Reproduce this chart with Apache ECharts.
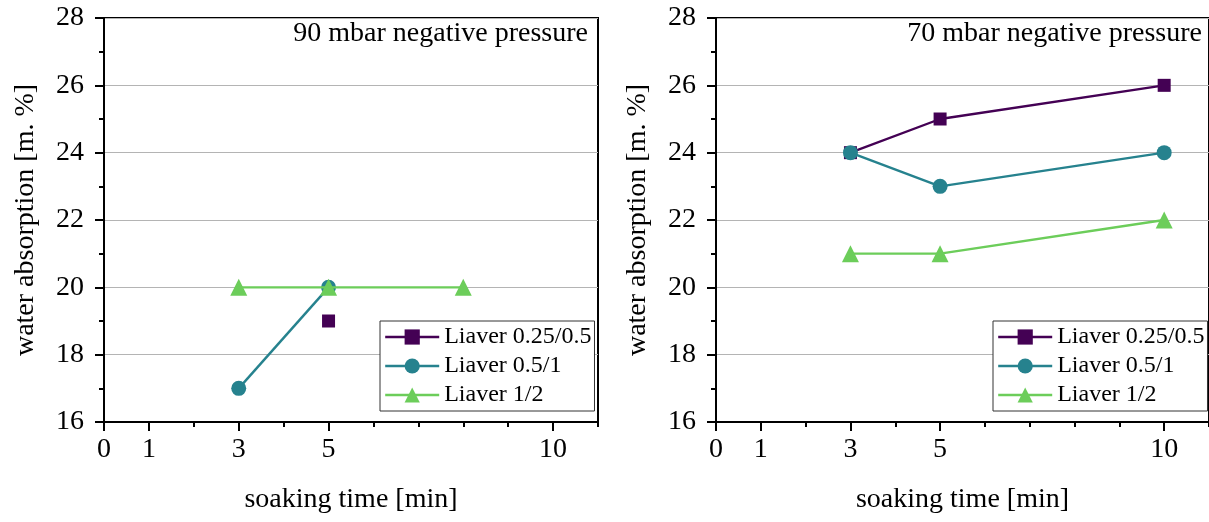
<!DOCTYPE html>
<html>
<head>
    <meta charset="UTF-8">
    <title>water absorption vs soaking time</title>
    <script src="https://cdn.jsdelivr.net/npm/echarts@6/dist/echarts.min.js"></script>
    <style>
        html, body { margin: 0; padding: 0; background: #fff; }
        #chart { width: 1209px; height: 522px; }
    </style>
</head>
<body>
    <div id="chart"></div>
    <script>
        // data
        const seriesNames = ['Liaver 0.25/0.5', 'Liaver 0.5/1', 'Liaver 1/2'];
        const panelTitles = ['90 mbar negative pressure', '70 mbar negative pressure'];
        const xTickLabels = [0, 1, 3, 5, 10];

        // 90 mbar panel
        const p90_fine = [[5, 19]];
        const p90_mid = [[3, 17], [5, 20]];
        const p90_coarse = [[3, 20], [5, 20], [8, 20]];

        // 70 mbar panel
        const p70_fine = [[3, 24], [5, 25], [10, 26]];
        const p70_mid = [[3, 24], [5, 23], [10, 24]];
        const p70_coarse = [[3, 21], [5, 21], [10, 22]];

        const colors = ['#440154', '#26828e', '#6ccd5a'];
        const symbols = ['rect', 'circle', 'triangle'];
        const symbolSizes = [13, 15, 17];
        const font = 'Liberation Serif';

        const chart = echarts.init(document.getElementById('chart'));

        const grids = [
            { left: 104, top: 18, width: 494, height: 404 },
            { left: 716, top: 18, width: 494, height: 404 }
        ];

        function makeX(gi) {
            // main axis: labelled ticks
            const main = {
                type: 'value', gridIndex: gi, min: 0, max: 11, position: 'bottom',
                name: 'soaking time [min]', nameLocation: 'middle', nameGap: 64,
                nameTextStyle: { fontFamily: font, fontSize: 28, color: '#000' },
                axisLine: { show: true, onZero: false, lineStyle: { color: '#000', width: 2 } },
                axisTick: { show: true, customValues: xTickLabels, length: 9, lineStyle: { color: '#000', width: 2 } },
                axisLabel: { customValues: xTickLabels, fontFamily: font, fontSize: 28, color: '#000', margin: 14 },
                splitLine: { show: false }
            };
            // minor ticks at every unit
            const minor = {
                type: 'value', gridIndex: gi, min: 0, max: 11, interval: 1, position: 'bottom',
                axisLine: { show: false },
                axisTick: { show: true, length: 5, lineStyle: { color: '#000', width: 2 } },
                axisLabel: { show: false },
                splitLine: { show: false }
            };
            return [main, minor];
        }

        function makeY(gi) {
            return {
                type: 'value', gridIndex: gi, min: 16, max: 28, interval: 2,
                name: 'water absorption [m. %]', nameLocation: 'middle', nameGap: 64,
                nameTextStyle: { fontFamily: font, fontSize: 28, color: '#000' },
                axisLine: { show: true, lineStyle: { color: '#000', width: 2 } },
                axisTick: { show: true, length: 9, lineStyle: { color: '#000', width: 2 } },
                minorTick: { show: true, splitNumber: 2, length: 5, lineStyle: { color: '#000', width: 2 } },
                axisLabel: { fontFamily: font, fontSize: 28, color: '#000', margin: 20 },
                splitLine: { show: true, lineStyle: { color: '#b4b4b4', width: 1.2 } }
            };
        }

        function makeSeries(gi, datasets) {
            return datasets.map((d, i) => ({
                name: seriesNames[i],
                type: 'line',
                xAxisIndex: gi * 2,
                yAxisIndex: gi,
                data: d,
                symbol: symbols[i],
                symbolSize: symbolSizes[i],
                showAllSymbol: true,
                color: colors[i],
                lineStyle: { width: 2.4, color: colors[i] },
                itemStyle: { color: colors[i] },
                z: 3 + i
            }));
        }

        const legendBase = {
            data: seriesNames, orient: 'vertical', top: 321,
            itemWidth: 54, itemHeight: 19, itemGap: 5,
            padding: [4, 3, 4, 4],
            borderColor: '#333', borderWidth: 1, backgroundColor: '#fff',
            lineStyle: { width: 2.4 },
            textStyle: { fontFamily: font, fontSize: 24, color: '#000' }
        };

        const option = {
            animation: false,
            title: [
                { text: panelTitles[0], right: 621, top: 20, padding: 0,
                  textStyle: { fontFamily: font, fontSize: 28, fontWeight: 'normal', color: '#000' } },
                { text: panelTitles[1], right: 7, top: 20, padding: 0,
                  textStyle: { fontFamily: font, fontSize: 28, fontWeight: 'normal', color: '#000' } }
            ],
            grid: grids.map(g => Object.assign({ show: true, borderColor: '#000', borderWidth: 2, backgroundColor: 'transparent' }, g)),
            xAxis: makeX(0).concat(makeX(1)),
            yAxis: [makeY(0), makeY(1)],
            legend: [
                Object.assign({}, legendBase, { left: 380 }),
                Object.assign({}, legendBase, { left: 993 })
            ],
            series: makeSeries(0, [p90_fine, p90_mid, p90_coarse])
                .concat(makeSeries(1, [p70_fine, p70_mid, p70_coarse]))
        };

        chart.setOption(option);
    </script>
</body>
</html>
